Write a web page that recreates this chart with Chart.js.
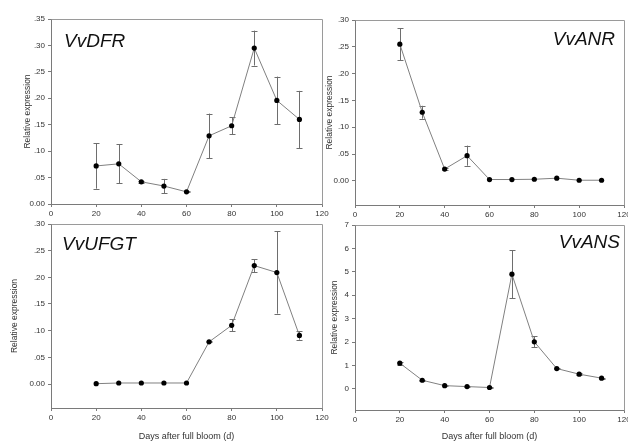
<!DOCTYPE html>
<html>
<head>
<meta charset="utf-8">
<script src="https://cdn.jsdelivr.net/npm/chart.js@4"></script>
<style>
  body { margin: 0; background: #fff; }
  #wrap { position: relative; width: 628px; height: 443px; overflow: hidden; font-family: Arial, "Liberation Sans", sans-serif; }
  canvas { position: absolute; }
  .gene { position: absolute; font-style: italic; font-size: 19px; line-height: 19px; color: #111; white-space: nowrap; }
</style>
</head>
<body>
<div id="wrap">
  <canvas id="c1" width="330" height="222" style="left:0;top:0"></canvas>
  <canvas id="c2" width="318" height="222" style="left:310px;top:0"></canvas>
  <canvas id="c3" width="330" height="231" style="left:0;top:212px"></canvas>
  <canvas id="c4" width="318" height="231" style="left:310px;top:212px"></canvas>
  <div class="gene" style="left:64px;top:31px">VvDFR</div>
  <div class="gene" style="right:13px;top:29px">VvANR</div>
  <div class="gene" style="left:62px;top:234px">VvUFGT</div>
  <div class="gene" style="right:8px;top:232px">VvANS</div>
</div>
<script>
// dias despues de floracion
const days = [20, 30, 40, 50, 60, 70, 80, 90, 100, 110];
const xTickValues = [0, 20, 40, 60, 80, 100, 120];

const dfrMean = [0.072, 0.076, 0.042, 0.034, 0.023, 0.129, 0.148, 0.295, 0.196, 0.160];
const dfrErr  = [0.043, 0.037, 0.002, 0.0135, 0.001, 0.042, 0.016, 0.033, 0.045, 0.054];
const dfrTicks = [0, 0.05, 0.10, 0.15, 0.20, 0.25, 0.30, 0.35];

const anrMean = [0.255, 0.128, 0.022, 0.047, 0.0025, 0.0025, 0.003, 0.005, 0.0012, 0.0012];
const anrErr  = [0.030, 0.012, 0.002, 0.0187, 0, 0, 0, 0, 0, 0];
const anrTicks = [0, 0.05, 0.10, 0.15, 0.20, 0.25, 0.30];

const ufgtMean = [0.0006, 0.0019, 0.0019, 0.0019, 0.0019, 0.079, 0.110, 0.222, 0.209, 0.091];
const ufgtErr  = [0, 0, 0, 0, 0, 0.001, 0.011, 0.012, 0.077, 0.008];
const ufgtTicks = [0, 0.05, 0.10, 0.15, 0.20, 0.25, 0.30];

const ansMean = [1.10, 0.37, 0.14, 0.10, 0.06, 4.90, 2.01, 0.87, 0.63, 0.46];
const ansErr  = [0.06, 0.02, 0.01, 0.01, 0.01, 1.02, 0.24, 0.04, 0.03, 0.02];
const ansTicks = [0, 1, 2, 3, 4, 5, 6, 7];

const FONT = "Arial, 'Liberation Sans', sans-serif";
const axisColor = "#7a7a7a";
const boxColor = "#9a9a9a";
const textColor = "#333";

const fmtDec = (v) => Math.abs(v) < 1e-9 ? "0.00" : v.toFixed(2).replace(/^0/, "");
const fmtInt = (v) => v.toFixed(0);

// barras de error
const errorBars = {
  id: "errorBars",
  beforeDatasetsDraw(chart) {
    const ctx = chart.ctx;
    const xs = chart.scales.x, ys = chart.scales.y;
    ctx.save();
    ctx.strokeStyle = "#6e6e6e";
    ctx.lineWidth = 1;
    chart.data.datasets.forEach((ds) => {
      ds.data.forEach((p, i) => {
        const e = ds.errors[i];
        if (!e) return;
        const x = Math.round(xs.getPixelForValue(p.x)) + 0.5;
        const y1 = ys.getPixelForValue(p.y + e);
        const y2 = ys.getPixelForValue(p.y - e);
        ctx.beginPath();
        ctx.moveTo(x, y1); ctx.lineTo(x, y2);
        ctx.moveTo(x - 3, Math.round(y1) + 0.5); ctx.lineTo(x + 3, Math.round(y1) + 0.5);
        ctx.moveTo(x - 3, Math.round(y2) + 0.5); ctx.lineTo(x + 3, Math.round(y2) + 0.5);
        ctx.stroke();
      });
    });
    ctx.restore();
  }
};

// marco superior y derecho
const frame = {
  id: "frame",
  afterDraw(chart) {
    const a = chart.chartArea, ctx = chart.ctx;
    ctx.save();
    ctx.strokeStyle = boxColor;
    ctx.lineWidth = 1;
    ctx.beginPath();
    ctx.moveTo(Math.round(a.left) + 0.5, Math.round(a.top) + 0.5);
    ctx.lineTo(Math.round(a.right) + 0.5, Math.round(a.top) + 0.5);
    ctx.lineTo(Math.round(a.right) + 0.5, Math.round(a.bottom) + 0.5);
    ctx.stroke();
    ctx.restore();
  }
};

function makePanel(p) {
  const padLeft = p.yTitleX - 5 - p.left;
  const padBottom = p.xTitle ? 1 : 0;
  const yWidth = p.area.l - p.left - padLeft;
  const xHeight = p.top + p.h - p.area.b - padBottom;

  new Chart(document.getElementById(p.id), {
    type: "line",
    data: {
      datasets: [{
        data: days.map((d, i) => ({ x: d, y: p.mean[i] })),
        errors: p.err,
        borderColor: "#808080",
        borderWidth: 1,
        pointRadius: 2.6,
        pointBackgroundColor: "#000",
        pointBorderColor: "#000",
        pointBorderWidth: 0,
        tension: 0,
        fill: false
      }]
    },
    options: {
      responsive: false,
      animation: false,
      devicePixelRatio: 1,
      layout: { padding: { left: padLeft, top: p.area.t - p.top, right: p.left + p.w - p.area.r, bottom: padBottom } },
      plugins: { legend: { display: false }, tooltip: { enabled: false } },
      scales: {
        x: {
          type: "linear", min: 0, max: 120,
          afterBuildTicks: (s) => { s.ticks = xTickValues.map((v) => ({ value: v })); },
          afterFit: (s) => { s.height = xHeight; s.paddingLeft = 0; s.paddingRight = 0; },
          grid: { drawOnChartArea: false, drawTicks: true, tickLength: 3, color: axisColor },
          border: { color: axisColor },
          ticks: { font: { size: 8, family: FONT }, color: textColor, padding: 2, maxRotation: 0, autoSkip: false },
          title: { display: p.xTitle, text: "Days after full bloom (d)", font: { size: 9, family: FONT }, color: textColor, padding: { top: 0, bottom: 0 } }
        },
        y: {
          type: "linear", min: p.yMin, max: p.yMax,
          afterBuildTicks: (s) => { s.ticks = p.yTicks.map((v) => ({ value: v })); },
          afterFit: (s) => { s.width = yWidth; s.paddingTop = 0; s.paddingBottom = 0; },
          grid: { drawOnChartArea: false, drawTicks: true, tickLength: 3, color: axisColor },
          border: { color: axisColor },
          ticks: { font: { size: 8, family: FONT }, color: textColor, padding: 3, callback: p.fmt, autoSkip: false },
          title: { display: true, text: "Relative expression", font: { size: 8.5, family: FONT }, color: textColor, padding: { top: 0, bottom: 0 } }
        }
      }
    },
    plugins: [errorBars, frame]
  });
}

makePanel({ id: "c1", left: 0, top: 0, w: 330, h: 222, area: { l: 51, t: 19, r: 322, b: 204 }, yTitleX: 28, xTitle: false,
  yMin: 0, yMax: 0.35, yTicks: dfrTicks, fmt: fmtDec, mean: dfrMean, err: dfrErr });
makePanel({ id: "c2", left: 310, top: 0, w: 318, h: 222, area: { l: 355, t: 20, r: 625, b: 205 }, yTitleX: 330, xTitle: false,
  yMin: -0.045, yMax: 0.30, yTicks: anrTicks, fmt: fmtDec, mean: anrMean, err: anrErr });
makePanel({ id: "c3", left: 0, top: 212, w: 330, h: 231, area: { l: 51, t: 224, r: 322, b: 408 }, yTitleX: 15, xTitle: true,
  yMin: -0.045, yMax: 0.30, yTicks: ufgtTicks, fmt: fmtDec, mean: ufgtMean, err: ufgtErr });
makePanel({ id: "c4", left: 310, top: 212, w: 318, h: 231, area: { l: 355, t: 225, r: 625, b: 410 }, yTitleX: 335, xTitle: true,
  yMin: -0.9, yMax: 7, yTicks: ansTicks, fmt: fmtInt, mean: ansMean, err: ansErr });
</script>
</body>
</html>
